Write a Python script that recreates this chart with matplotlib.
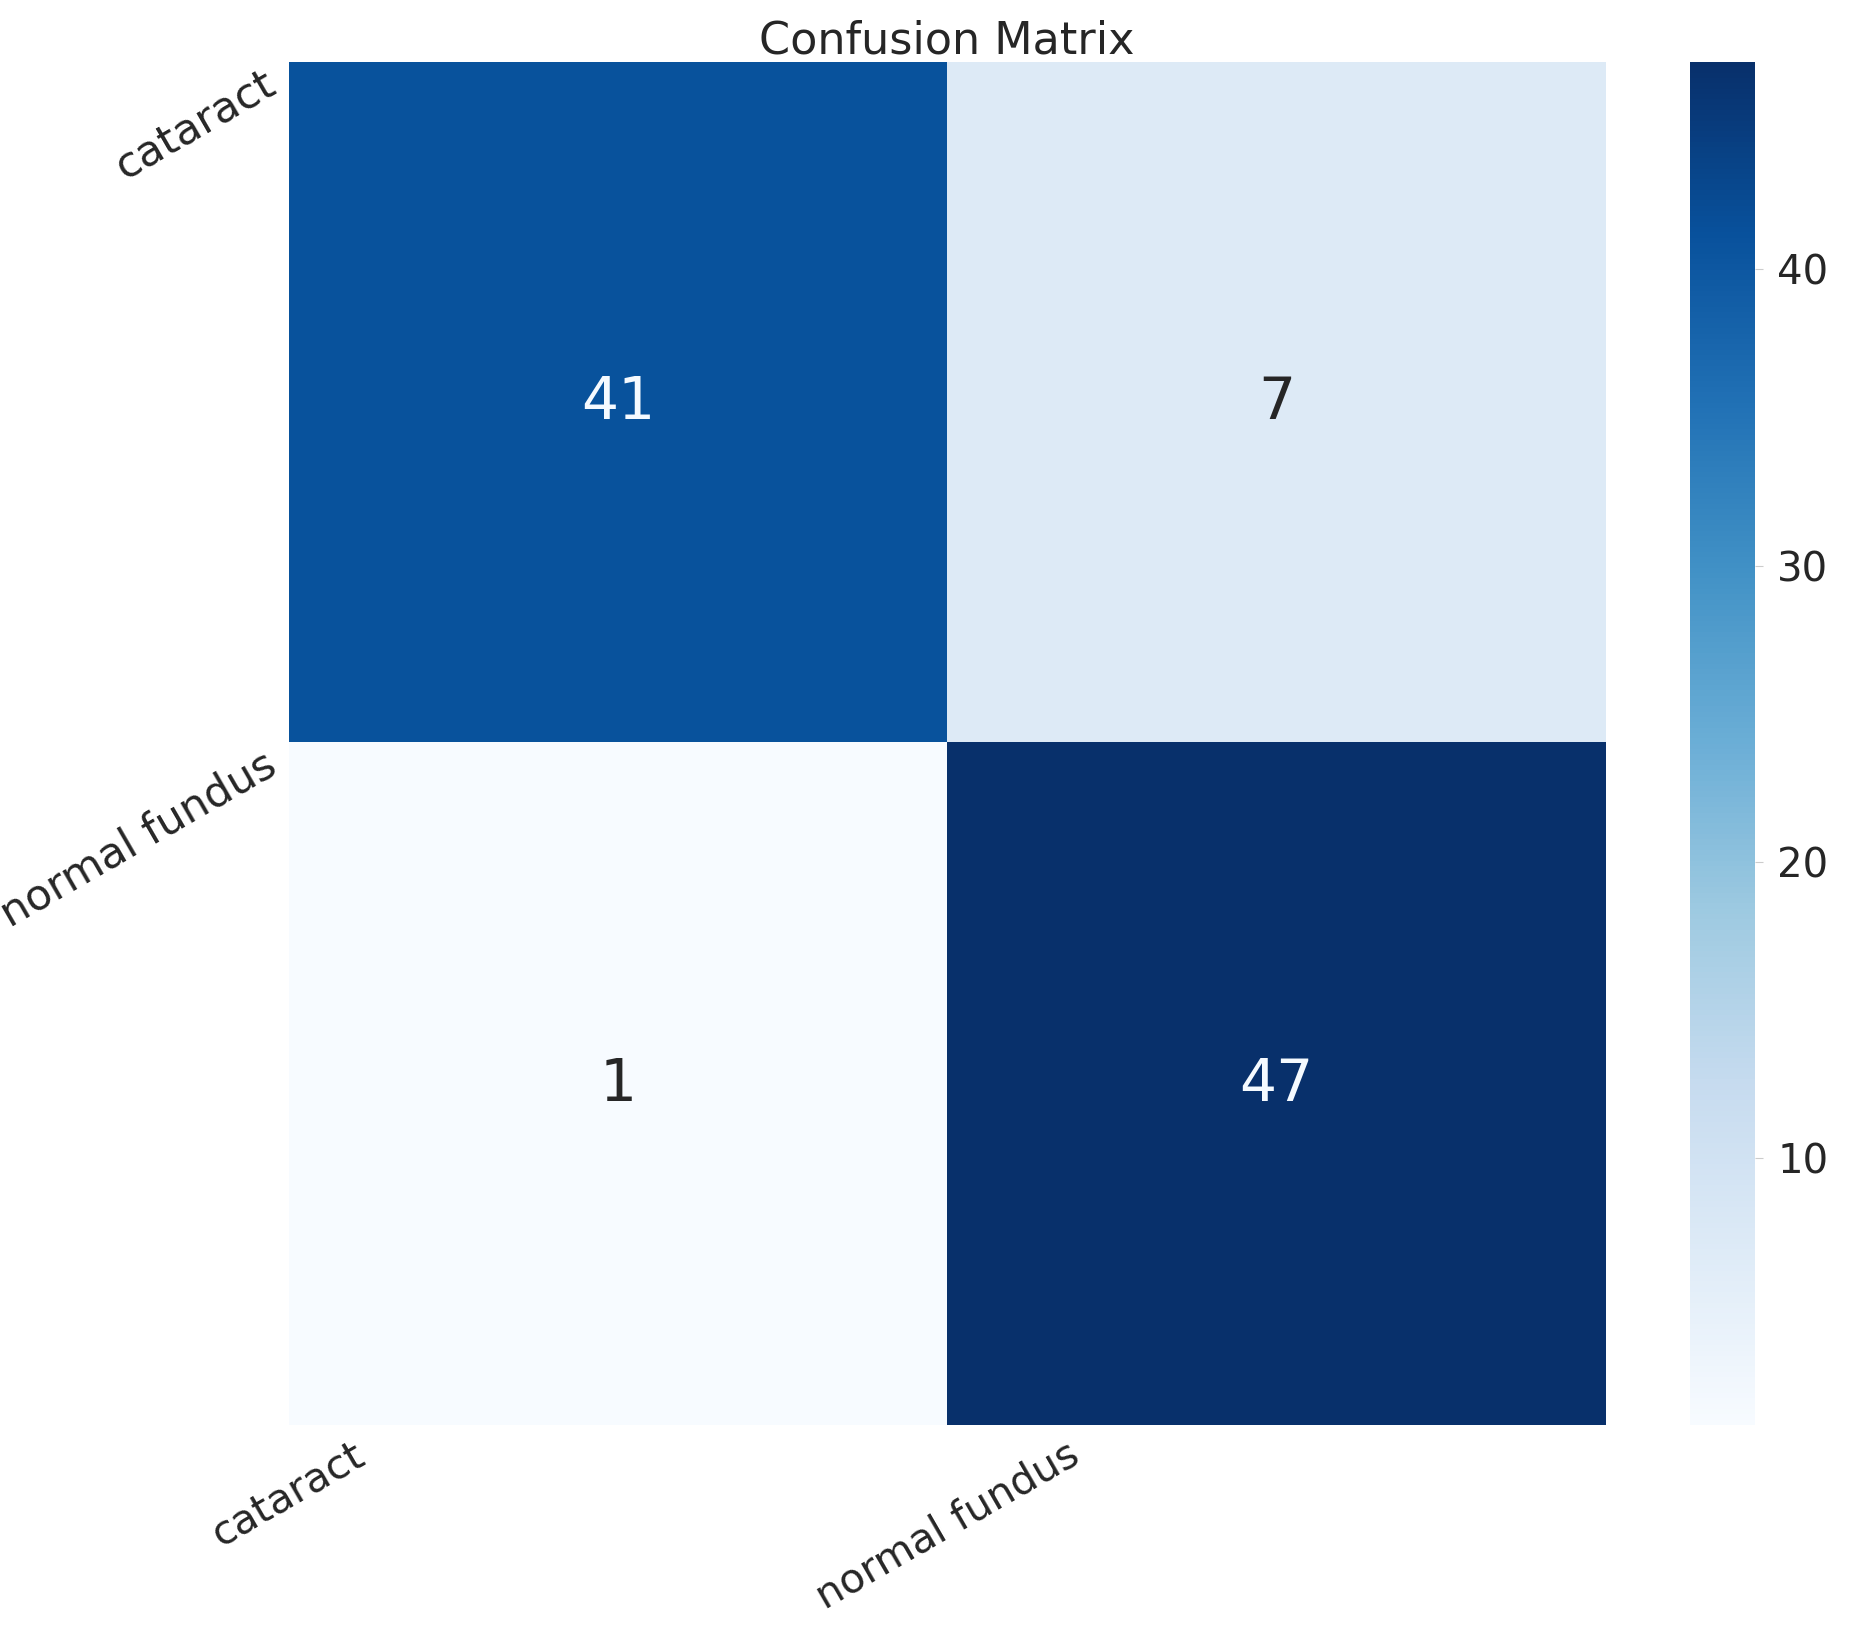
import numpy as np
import matplotlib
matplotlib.use("Agg")
import matplotlib.pyplot as plt

# --- data ---
class_names = ["cataract", "normal fundus"]
cm = np.array([[41, 7],
               [1, 47]])
cbar_ticks = [10, 20, 30, 40]

TXT = "#262626"

fig = plt.figure(figsize=(18.51, 16.45), dpi=100)
ax = fig.add_axes([0.156, 0.1337, 0.7115, 0.8286])
cax = fig.add_axes([0.913, 0.1337, 0.0351, 0.8286])

vmin, vmax = cm.min(), cm.max()
im = ax.imshow(cm, cmap="Blues", vmin=vmin, vmax=vmax, aspect="auto",
               extent=(0, cm.shape[1], cm.shape[0], 0), interpolation="nearest")

# annotations, light text on dark cells
for i in range(cm.shape[0]):
    for j in range(cm.shape[1]):
        v = cm[i, j]
        col = "#f5faff" if (v - vmin) / (vmax - vmin) > 0.5 else TXT
        ax.text(j + 0.5, i + 0.5, str(v), ha="center", va="center",
                fontsize=42, color=col)

# tick labels sit on the cell edges (0, 1)
ax.set_xticks(np.arange(len(class_names)))
ax.set_xticklabels(class_names, rotation=30, ha="center", va="top",
                   fontsize=29.5, color=TXT)
ax.set_yticks(np.arange(len(class_names)))
ax.set_yticklabels(class_names, rotation=30, ha="right", va="top",
                   fontsize=31, color=TXT)
ax.tick_params(axis="x", length=0, pad=7)
ax.tick_params(axis="y", length=0, pad=4)
for s in ax.spines.values():
    s.set_visible(False)
ax.set_title("Confusion Matrix", fontsize=32, color=TXT, pad=4)

cb = fig.colorbar(im, cax=cax, ticks=cbar_ticks)
cb.outline.set_visible(False)
cax.tick_params(labelsize=29, labelcolor=TXT, length=6, width=0.8,
                color="#cccccc", pad=10)

fig.savefig("out.png", dpi=100)
